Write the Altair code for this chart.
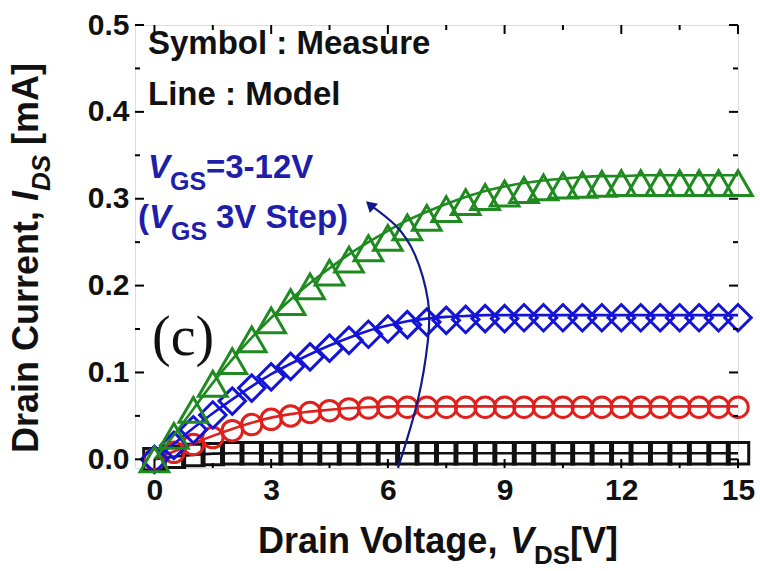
import altair as alt
import pandas as pd

# Drain voltage sweep (V)
vds = [0.0, 0.5, 1.0, 1.5, 2.0, 2.5, 3.0, 3.5, 4.0, 4.5, 5.0, 5.5, 6.0, 6.5, 7.0, 7.5,
       8.0, 8.5, 9.0, 9.5, 10.0, 10.5, 11.0, 11.5, 12.0, 12.5, 13.0, 13.5, 14.0, 14.5, 15.0]

# Measured drain current (mA) for each gate voltage
meas_3v = [0.000, 0.003, 0.005, 0.006, 0.007, 0.007, 0.007, 0.007, 0.007, 0.007, 0.007,
           0.007, 0.007, 0.007, 0.007, 0.007, 0.007, 0.007, 0.007, 0.007, 0.007, 0.007,
           0.007, 0.007, 0.007, 0.007, 0.007, 0.007, 0.007, 0.007, 0.007]
meas_6v = [0.000, 0.008, 0.017, 0.025, 0.033, 0.040, 0.046, 0.050, 0.054, 0.056, 0.058,
           0.059, 0.060, 0.060, 0.060, 0.060, 0.060, 0.060, 0.060, 0.060, 0.060, 0.060,
           0.060, 0.060, 0.060, 0.060, 0.060, 0.060, 0.060, 0.060, 0.060]
meas_9v = [0.000, 0.016, 0.034, 0.051, 0.067, 0.082, 0.095, 0.107, 0.118, 0.128, 0.137,
           0.144, 0.150, 0.155, 0.158, 0.160, 0.161, 0.162, 0.162, 0.163, 0.163, 0.163,
           0.163, 0.163, 0.163, 0.163, 0.163, 0.163, 0.163, 0.163, 0.163]
meas_12v = [0.000, 0.027, 0.057, 0.087, 0.113, 0.138, 0.160, 0.181, 0.199, 0.215, 0.230,
            0.243, 0.255, 0.267, 0.278, 0.288, 0.296, 0.302, 0.306, 0.310, 0.313, 0.315,
            0.316, 0.317, 0.318, 0.318, 0.318, 0.318, 0.318, 0.318, 0.318]

# Model drain current (mA)
model_3v = [0.000, 0.003, 0.005, 0.0065, 0.007, 0.007, 0.007, 0.007, 0.007, 0.007, 0.007,
            0.007, 0.007, 0.007, 0.007, 0.007, 0.007, 0.007, 0.007, 0.007, 0.007, 0.007,
            0.007, 0.007, 0.007, 0.007, 0.007, 0.007, 0.007, 0.007, 0.007]
model_6v = [0.000, 0.009, 0.018, 0.027, 0.035, 0.042, 0.048, 0.052, 0.055, 0.057, 0.059,
            0.060, 0.061, 0.061, 0.061, 0.061, 0.061, 0.061, 0.061, 0.061, 0.061, 0.061,
            0.061, 0.061, 0.061, 0.061, 0.061, 0.061, 0.061, 0.061, 0.061]
model_9v = [0.000, 0.018, 0.036, 0.053, 0.069, 0.084, 0.098, 0.110, 0.121, 0.131, 0.140,
            0.148, 0.154, 0.159, 0.162, 0.164, 0.165, 0.166, 0.166, 0.166, 0.166, 0.166,
            0.166, 0.166, 0.166, 0.166, 0.166, 0.166, 0.166, 0.166, 0.166]
model_12v = [0.000, 0.028, 0.058, 0.088, 0.115, 0.140, 0.163, 0.184, 0.203, 0.220, 0.236,
             0.250, 0.263, 0.275, 0.285, 0.294, 0.302, 0.309, 0.314, 0.318, 0.321, 0.323,
             0.325, 0.326, 0.326, 0.327, 0.327, 0.327, 0.327, 0.327, 0.327]

series_names = ["3", "6", "9", "12"]
series_colors = ["#111111", "#e0201c", "#1414d6", "#1f8a1f"]
series_shapes = ["square", "circle", "diamond", "triangle-up"]
series_sizes = [460, 420, 700, 820]
series_meas = [meas_3v, meas_6v, meas_9v, meas_12v]
series_model = [model_3v, model_6v, model_9v, model_12v]

# Curved arrow indicating increasing V_GS
arrow_v = [6.26, 6.77, 7.03, 7.03, 6.70, 6.18, 5.54]
arrow_i = [-0.010, 0.068, 0.137, 0.183, 0.235, 0.270, 0.293]

x_major = [0, 3, 6, 9, 12, 15]
x_minor = [1.5, 4.5, 7.5, 10.5, 13.5]
y_major = [0.0, 0.1, 0.2, 0.3, 0.4, 0.5]
y_minor = [0.05, 0.15, 0.25, 0.35, 0.45]

W, H = 603, 443
FONT = "Liberation Sans"
TEXT_BLUE = "#1e1eaa"
ARROW_BLUE = "#111a8c"

xs = alt.Scale(domain=[-0.5, 15], nice=False, zero=False)
ys = alt.Scale(domain=[-0.01, 0.5], nice=False, zero=False)

x_axis = alt.X("V:Q", scale=xs, title=None,
               axis=alt.Axis(values=x_major, ticks=False, domain=False, grid=False,
                             labelFont=FONT, labelFontSize=30, labelFontWeight="bold",
                             labelColor="#111111", labelPadding=7, labelFlush=False))
y_axis = alt.Y("I:Q", scale=ys, title=None,
               axis=alt.Axis(values=y_major, format=".1f", ticks=False, domain=False,
                             grid=False, labelFont=FONT, labelFontSize=30,
                             labelFontWeight="bold", labelColor="#111111",
                             labelPadding=6, labelFlush=False))
x_plain = alt.X("V:Q", scale=xs)
y_plain = alt.Y("I:Q", scale=ys)

# One layer of symbols (measurement) and one of lines (model) per gate voltage
data_layers = []
for k, name in enumerate(series_names):
    df_m = pd.DataFrame({"V": vds, "I": series_meas[k]})
    df_l = pd.DataFrame({"V": vds, "I": series_model[k]})
    pts = alt.Chart(df_m).mark_point(
        shape=series_shapes[k], size=series_sizes[k], filled=False,
        strokeWidth=3, color=series_colors[k], opacity=1
    ).encode(x=x_axis if k == 0 else x_plain, y=y_axis if k == 0 else y_plain)
    ln = alt.Chart(df_l).mark_line(
        strokeWidth=2.6, interpolate="monotone", color=series_colors[k]
    ).encode(x=x_plain, y=y_plain)
    data_layers += [pts, ln]

arrow_df = pd.DataFrame({"V": arrow_v, "I": arrow_i, "k": list(range(len(arrow_v)))})
arrow = alt.Chart(arrow_df).mark_line(color=ARROW_BLUE, strokeWidth=2.2,
                                      interpolate="natural").encode(
    x=x_plain, y=y_plain, order="k:Q"
)
head = alt.Chart(pd.DataFrame({"V": [arrow_v[-1]], "I": [arrow_i[-1]]})).mark_point(
    shape="triangle-up", filled=True, color=ARROW_BLUE, size=150, angle=312, opacity=1
).encode(x=x_plain, y=y_plain)

# Inward ticks on all four sides
def xticks(vals, length):
    d = pd.DataFrame({"V": vals})
    bottom = alt.Chart(d).mark_rule(color="black", strokeWidth=2).encode(
        x=x_plain, y=alt.value(H), y2=alt.value(H - length))
    top = alt.Chart(d).mark_rule(color="black", strokeWidth=2).encode(
        x=x_plain, y=alt.value(0), y2=alt.value(length))
    return [bottom, top]

def yticks(vals, length):
    d = pd.DataFrame({"I": vals})
    left = alt.Chart(d).mark_rule(color="black", strokeWidth=2).encode(
        y=y_plain, x=alt.value(0), x2=alt.value(length))
    right = alt.Chart(d).mark_rule(color="black", strokeWidth=2).encode(
        y=y_plain, x=alt.value(W), x2=alt.value(W - length))
    return [left, right]

tick_layers = xticks(x_major, 9) + xticks(x_minor, 5) + yticks(y_major, 9) + yticks(y_minor, 5)

def label(text, x, y, size, color="#111111", italic=False, bold=True, angle=0,
          font=FONT, baseline="alphabetic", align="left"):
    kw = dict(font=font, fontSize=size, color=color, align=align, baseline=baseline)
    if bold:
        kw["fontWeight"] = "bold"
    if italic:
        kw["fontStyle"] = "italic"
    if angle:
        kw["angle"] = angle
    return alt.Chart(pd.DataFrame({"t": [text]})).mark_text(**kw).encode(
        x=alt.value(x), y=alt.value(y), text="t:N")

texts = [
    label("Symbol : Measure", 13, 29, 33),
    label("Line : Model", 13, 80, 33),
    label("V", 13, 153, 33, color=TEXT_BLUE, italic=True),
    label("GS", 35, 165, 25, color=TEXT_BLUE),
    label("=3-12V", 71, 153, 33, color=TEXT_BLUE),
    label("(", 3, 203, 33, color=TEXT_BLUE),
    label("V", 14, 203, 33, color=TEXT_BLUE, italic=True),
    label("GS", 36, 215, 25, color=TEXT_BLUE),
    label("3V Step)", 81, 203, 33, color=TEXT_BLUE),
    label("(c)", 17, 330, 56, bold=False, font="Liberation Serif"),
    # x-axis title
    label("Drain Voltage, ", 123, 528, 36),
    label("V", 375, 528, 36, italic=True),
    label("DS", 399, 539, 26),
    label("[V]", 435, 528, 36),
    # y-axis title (rotated)
    label("Drain Current, ", -97, 428, 36, angle=270),
    label("I", -97, 176, 36, angle=270, italic=True),
    label("DS", -85, 166, 26, angle=270, italic=True),
    label("[mA]", -97, 120, 36, angle=270),
]

chart = alt.layer(
    *data_layers, *tick_layers, arrow, head, *texts
).properties(
    width=W, height=H,
    autosize=alt.AutoSizeParams(type="none"),
    padding={"left": 135, "top": 25, "right": 22, "bottom": 103},
).configure_view(
    stroke="black", strokeWidth=2.6
).configure(background="white")

chart.save("out.html", embed_options={"renderer": "svg", "actions": False})
